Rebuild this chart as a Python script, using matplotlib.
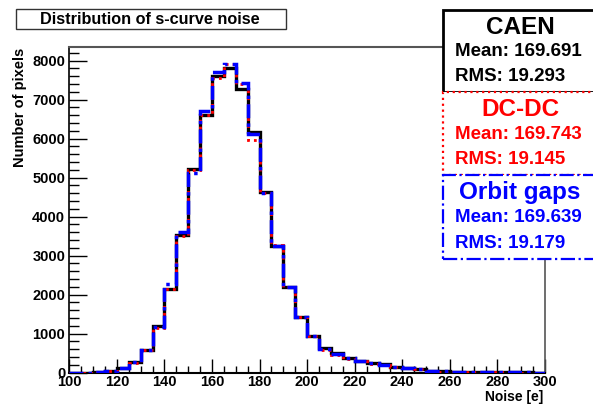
import numpy as np
import matplotlib
matplotlib.use("Agg")
import matplotlib.pyplot as plt
from matplotlib.patches import Rectangle
from matplotlib.ticker import MultipleLocator

plt.rcParams['font.family'] = ['Liberation Sans', 'DejaVu Sans']

edges = np.arange(100, 305, 5)
caen = [3, 5, 15, 50, 128, 274, 590, 1197, 2145, 3530, 5215, 6607, 7615, 7813,
        7282, 6180, 4626, 3257, 2205, 1436, 940, 625, 497, 368, 308, 240, 214, 154,
        120, 94, 51, 32, 25, 20, 15, 12, 10, 8, 6, 5]
dcdc = [3, 5, 15, 45, 120, 260, 570, 1150, 2150, 3500, 5200, 6600, 7550, 7915,
        7390, 5967, 4600, 3270, 2190, 1420, 950, 590, 453, 360, 300, 235, 205, 150,
        115, 90, 50, 30, 24, 18, 14, 11, 9, 7, 5, 4]
orbit = [3, 5, 15, 50, 125, 270, 580, 1180, 2265, 3620, 5120, 6710, 7700, 7915,
         7420, 6130, 4600, 3250, 2210, 1430, 945, 610, 490, 365, 305, 245, 210, 150,
         118, 92, 52, 31, 25, 19, 15, 12, 10, 8, 6, 5]

W, H = 593, 405
fig = plt.figure(figsize=(W / 100, H / 100), dpi=100)
ax_l, ax_r, ax_b, ax_t = 69.3, 545, 372.7, 47
ax = fig.add_axes([ax_l / W, (H - ax_b) / H, (ax_r - ax_l) / W, (ax_b - ax_t) / H])

ax.stairs(caen, edges, color='black', lw=2.4, zorder=3)
ax.stairs(dcdc, edges, color='red', lw=2.0, linestyle=(0, (1, 1.5)), zorder=4)
ax.stairs(orbit, edges, color='blue', lw=2.5, linestyle=(0, (4, 1.5, 1, 1.5)), zorder=5)

ax.set_xlim(100, 300)
ax.set_ylim(0, 8351)
ax.xaxis.set_major_locator(MultipleLocator(20))
ax.xaxis.set_minor_locator(MultipleLocator(5))
ax.yaxis.set_major_locator(MultipleLocator(1000))
ax.yaxis.set_minor_locator(MultipleLocator(200))
ax.tick_params(axis='x', which='major', direction='in', length=10, width=1, top=False,
               labelsize=10.5, pad=2)
ax.tick_params(axis='x', which='minor', direction='in', length=5, width=1, top=False)
ax.tick_params(axis='y', which='major', direction='in', length=13, width=1, right=False,
               labelsize=10.5, pad=3)
ax.tick_params(axis='y', which='minor', direction='in', length=7, width=1, right=False)
for lab in ax.get_xticklabels() + ax.get_yticklabels():
    lab.set_fontweight('bold')
ax.spines['left'].set_linewidth(1.2)
ax.spines['bottom'].set_linewidth(1.5)
ax.spines['top'].set_color('#555555')
ax.spines['right'].set_color('#555555')
ax.spines['top'].set_linewidth(1.5)
ax.spines['right'].set_linewidth(1.2)

fig.text(20 / W, 1 - 48 / H, 'Number of pixels', rotation=90, ha='center', va='top',
         fontsize=10.5, fontweight='bold')
fig.text(543 / W, 1 - 397 / H, 'Noise [e]', ha='right', va='center',
         fontsize=10, fontweight='bold')

# title box
fig.patches.append(Rectangle((15.7 / W, 1 - 29.3 / H), (286 - 15.7) / W, 20 / H,
                             transform=fig.transFigure, facecolor='white',
                             edgecolor='#333333', lw=1.0, zorder=10))
fig.text(150 / W, 1 - 19.5 / H, 'Distribution of s-curve noise', ha='center', va='center',
         fontsize=11.7, fontweight='bold', zorder=11)

# stat boxes
boxes = [
    (10, 92, 'black', '-', 'CAEN', 'Mean: 169.691', 'RMS: 19.293'),
    (92, 175, 'red', ':', 'DC-DC', 'Mean: 169.743', 'RMS: 19.145'),
    (175, 259, 'blue', '-.', 'Orbit gaps', 'Mean: 169.639', 'RMS: 19.179'),
]
for top, bot, col, ls, name, mean, rms in boxes:
    fig.patches.append(Rectangle((443 / W, 1 - bot / H), 200 / W, (bot - top) / H,
                                 transform=fig.transFigure, facecolor='white',
                                 edgecolor=col, lw=2 if col == 'black' else 1.6,
                                 linestyle=ls, zorder=10))
    h = bot - top
    fig.text(520 / W, 1 - (top + h * 0.21) / H, name, ha='center', va='center',
             fontsize=17.5, fontweight='bold', color=col, zorder=11)
    fig.text(455 / W, 1 - (top + h * 0.51) / H, mean, ha='left', va='center',
             fontsize=13.5, fontweight='bold', color=col, zorder=11)
    fig.text(455 / W, 1 - (top + h * 0.81) / H, rms, ha='left', va='center',
             fontsize=13.5, fontweight='bold', color=col, zorder=11)

fig.savefig('out.png', dpi=100)
